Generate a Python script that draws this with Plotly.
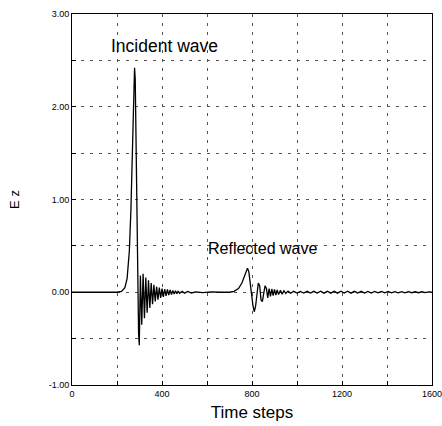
import plotly.graph_objects as go

# Time steps and Ez values
time_steps = [0, 100, 200, 220, 235, 245, 255, 262, 268, 274, 278, 281, 284, 288, 292, 296, 299,
              304, 310, 316, 322, 328, 334, 340, 346, 352, 358, 364, 370, 376, 382, 388, 394,
              400, 406, 412, 418, 424, 430, 436, 442, 448, 454, 460, 466, 472, 478, 490, 500,
              515, 530, 550, 580, 620, 660, 700, 720, 740, 755, 765, 774, 780, 786, 792, 798,
              804, 810, 816, 822, 828, 834, 840, 846, 852, 858, 864, 870, 876, 882, 888, 894,
              900, 906, 912, 918, 926, 934, 942, 950, 960, 972, 985, 1000, 1015, 1030, 1045,
              1060, 1075, 1090, 1105, 1120, 1135, 1150, 1165, 1180, 1195, 1210, 1225, 1240,
              1255, 1270, 1285, 1300, 1315, 1330, 1345, 1360, 1375, 1390, 1405, 1420, 1435,
              1450, 1465, 1480, 1495, 1510, 1525, 1540, 1555, 1570, 1585, 1600]
ez_values = [0.0, 0.0, 0.0, 0.01, 0.05, 0.15, 0.45, 0.9, 1.5, 2.1, 2.42, 2.3, 1.7, 0.9, 0.1, -0.45, -0.57,
             0.18, -0.35, 0.2, -0.28, 0.16, -0.22, 0.13, -0.17, 0.1, -0.13, 0.08, -0.1, 0.06, -0.08, 0.05, -0.06,
             0.04, -0.05, 0.035, -0.04, 0.03, -0.03, 0.025, -0.025, 0.02, -0.02, 0.015, -0.015, 0.012, -0.012, 0.01, -0.01,
             0.008, -0.008, 0.005, -0.004, 0.003, 0.0, 0.0, 0.01, 0.04, 0.1, 0.17, 0.23, 0.26, 0.22, 0.12, -0.02,
             -0.14, -0.21, -0.15, 0.0, 0.1, 0.07, -0.08, -0.1, -0.02, 0.07, 0.04, -0.06, 0.04, -0.045, 0.035, -0.035,
             0.03, -0.03, 0.025, -0.025, 0.02, -0.02, 0.016, -0.014, 0.012, -0.01, 0.01, -0.008, 0.009, -0.008, 0.01,
             -0.008, 0.01, -0.008, 0.012, -0.01, 0.012, -0.01, 0.012, -0.01, 0.012, -0.008, 0.011, -0.01,
             0.01, -0.008, 0.01, -0.008, 0.009, -0.008, 0.009, -0.007, 0.008, -0.007, 0.008, -0.007, 0.007,
             -0.006, 0.007, -0.006, 0.006, -0.005, 0.005, -0.005, 0.005, -0.004, 0.004, 0.0]

x_tick_vals = [0, 200, 400, 600, 800, 1000, 1200, 1400, 1600]
x_tick_text = ["0", "", "400", "", "800", "", "1200", "", "1600"]
y_tick_vals = [-1.0, -0.5, 0.0, 0.5, 1.0, 1.5, 2.0, 2.5, 3.0]
y_tick_text = ["-1.00", "", "0.00", "", "1.00", "", "2.00", "", "3.00"]

fig = go.Figure()
fig.add_trace(go.Scatter(x=time_steps, y=ez_values, mode="lines",
                         line=dict(color="black", width=1.3), showlegend=False))

axis_common = dict(showline=True, mirror=True, linecolor="black", linewidth=1,
                   showgrid=True, gridcolor="#555555", gridwidth=1, griddash="3px,6px",
                   zeroline=False, ticks="inside", ticklen=4, tickcolor="black",
                   automargin=False, ticklabeloverflow="allow",
                   tickfont=dict(family="Liberation Sans, Arial", size=9, color="black"))

fig.update_xaxes(range=[0, 1600], tickmode="array", tickvals=x_tick_vals, ticktext=x_tick_text,
                 title=dict(text="Time steps", font=dict(family="Liberation Sans, Arial", size=17, color="black"),
                            standoff=8),
                 **axis_common)
fig.update_yaxes(range=[-1, 3], tickmode="array", tickvals=y_tick_vals, ticktext=y_tick_text,
                 title=dict(text="E z", font=dict(family="Liberation Sans, Arial", size=13, color="black"),
                            standoff=26),
                 **axis_common)

fig.add_annotation(x=409, y=2.65, text="Incident wave", showarrow=False,
                   font=dict(family="Liberation Sans, Arial", size=17.5, color="black"))
fig.add_annotation(x=847, y=0.47, text="Reflected wave", showarrow=False,
                   font=dict(family="Liberation Sans, Arial", size=16, color="black"))

fig.update_layout(width=442, height=426, margin=dict(l=72, r=10, t=14, b=41),
                  paper_bgcolor="white", plot_bgcolor="white")

# remove the default page margin so the figure fills the window exactly
fig.write_html("out.html", config={"displayModeBar": False},
               post_script="document.body.style.margin='0';")
